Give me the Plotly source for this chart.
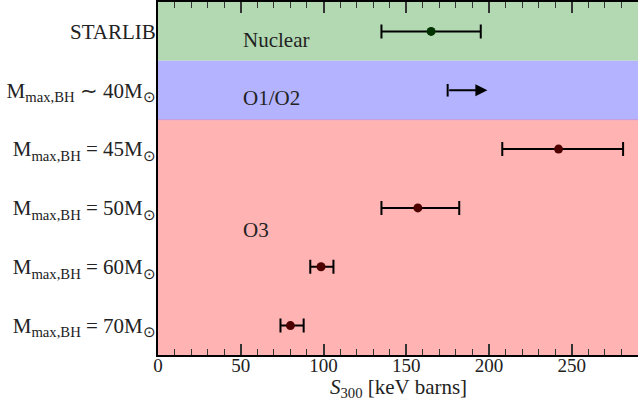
import plotly.graph_objects as go

# ---- data ----
categories = ["STARLIB",
              "M<sub>max,BH</sub> ∼ 40M<sub>⊙</sub>",
              "M<sub>max,BH</sub> = 45M<sub>⊙</sub>",
              "M<sub>max,BH</sub> = 50M<sub>⊙</sub>",
              "M<sub>max,BH</sub> = 60M<sub>⊙</sub>",
              "M<sub>max,BH</sub> = 70M<sub>⊙</sub>"]
row_index = [0, 1, 2, 3, 4, 5]

# measured values with asymmetric errors (rows with central values)
point_rows = [0, 2, 3, 4, 5]
point_vals = [165, 242, 157, 98.5, 80]
err_minus = [30, 34, 22, 6.5, 6]
err_plus = [30, 39, 25, 7.5, 8]
point_colors = ["#003300", "#4d0000", "#4d0000", "#4d0000", "#4d0000"]

# lower limit (O1/O2)
limit_row = 1
limit_val = 175
limit_arrow_len = 24

# bands
band_names = ["Nuclear", "O1/O2", "O3"]
band_start = [-0.5, 0.5, 1.5]
band_end = [0.5, 1.5, 5.5]
band_colors = ["#b3d9b3", "#b3b3ff", "#ffb3b3"]
band_label_x = [50, 50, 50]
band_label_y = [0.14, 1.14, 3.38]

x_range = [0, 290]
x_major = [0, 50, 100, 150, 200, 250]
x_title = "<i>S</i><sub>300</sub> [keV barns]"

FONT = "Liberation Serif"
FS = 21

fig = go.Figure()

shapes = []
for s, e, c in zip(band_start, band_end, band_colors):
    shapes.append(dict(type="rect", xref="paper", yref="y", x0=0, x1=1, y0=s, y1=e,
                       fillcolor=c, line=dict(width=0), layer="below"))
# thin edge where blue and red bands meet
shapes.append(dict(type="line", xref="paper", yref="y", x0=0, x1=1,
                   y0=band_end[1], y1=band_end[1],
                   line=dict(color="#c99ad6", width=1), layer="below"))

fig.add_trace(go.Scatter(
    x=point_vals, y=point_rows, mode="markers",
    marker=dict(color=point_colors, size=9),
    error_x=dict(type="data", symmetric=False, array=err_plus, arrayminus=err_minus,
                 color="black", thickness=2, width=7),
    showlegend=False, hoverinfo="skip"))

# lower-limit cap
fig.add_trace(go.Scatter(
    x=[limit_val], y=[limit_row], mode="markers",
    marker=dict(symbol="line-ns", size=9, line=dict(color="black", width=2)),
    showlegend=False, hoverinfo="skip"))

annotations = [dict(x=limit_val + limit_arrow_len, y=limit_row, ax=limit_val, ay=limit_row,
                    xref="x", yref="y", axref="x", ayref="y", text="",
                    showarrow=True, arrowhead=2, arrowsize=1.2, arrowwidth=2,
                    arrowcolor="black")]
for name, lx, ly in zip(band_names, band_label_x, band_label_y):
    annotations.append(dict(x=lx, y=ly, xref="x", yref="y", text=name, showarrow=False,
                            xanchor="left", yanchor="middle",
                            font=dict(family=FONT, size=FS, color="#222222")))
annotations.append(dict(x=0.5, y=0, xref="paper", yref="paper", text=x_title,
                        showarrow=False, xanchor="center", yanchor="middle", yshift=-33,
                        font=dict(family=FONT, size=FS, color="#222222")))

fig.update_layout(
    width=639, height=403,
    margin=dict(l=158, r=1, t=2, b=48),
    plot_bgcolor="white", paper_bgcolor="white",
    shapes=shapes, annotations=annotations,
    font=dict(family=FONT, size=FS, color="#222222"),
    xaxis=dict(range=x_range, tickvals=x_major, ticks="inside", ticklen=11, tickwidth=1.5,
               tickcolor="#333333", showline=True, linecolor="black", linewidth=2,
               mirror="ticks", showgrid=False, zeroline=False, automargin=False,
               layer="above traces", ticklabelstandoff=-8,
               minor=dict(dtick=10, ticks="inside", ticklen=6, tickwidth=1.2,
                          tickcolor="#333333", showgrid=False),
               tickfont=dict(family=FONT, size=19, color="#222222")),
    yaxis=dict(range=[5.5, -0.5], tickvals=row_index, ticktext=categories,
               ticks="", showline=True, linecolor="black", linewidth=2, mirror=False,
               showgrid=False, zeroline=False, ticklabelstandoff=-4, automargin=False,
               tickfont=dict(family=FONT, size=21, color="#222222")),
)

fig.write_html("out.html", config={"displayModeBar": False},
               post_script="document.body.style.margin='0px';document.body.style.overflow='hidden';")
